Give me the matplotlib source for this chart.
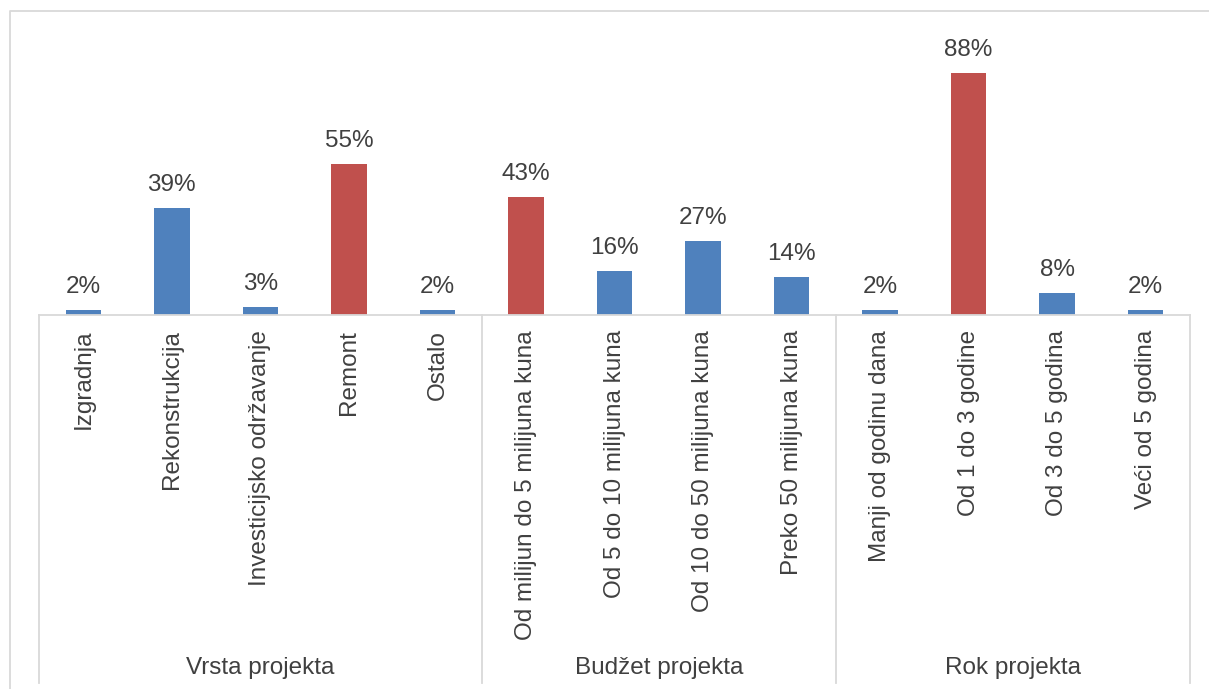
import matplotlib.pyplot as plt
from matplotlib.lines import Line2D
from matplotlib.transforms import blended_transform_factory

plt.rcParams['font.family'] = ['Liberation Sans', 'DejaVu Sans']

groups = ['Vrsta projekta', 'Budžet projekta', 'Rok projekta']
categories = [
    ['Izgradnja', 'Rekonstrukcija', 'Investicijsko održavanje', 'Remont', 'Ostalo'],
    ['Od milijun do 5 milijuna kuna', 'Od 5 do 10 milijuna kuna',
     'Od 10 do 50 milijuna kuna', 'Preko 50 milijuna kuna'],
    ['Manji od godinu dana', 'Od 1 do 3 godine', 'Od 3 do 5 godina', 'Veći od 5 godina'],
]
values = [
    [2, 39, 3, 55, 2],
    [43, 16, 27, 14],
    [2, 88, 8, 2],
]

blue = '#4F81BD'
red = '#C0504D'
text_col = '#404040'
grid_col = '#D9D9D9'
fs = 17.5

W, H = 1209, 689
fig = plt.figure(figsize=(W / 100, H / 100), dpi=100)

# plot area in pixels: x 39..1190, y 40..315
left, right, top, bottom = 39, 1190, 40, 315
ax = fig.add_axes([left / W, 1 - bottom / H, (right - left) / W, (bottom - top) / H])

labels, vals, cols = [], [], []
for cats, v in zip(categories, values):
    m = max(v)
    for c, x in zip(cats, v):
        labels.append(c)
        vals.append(x)
        cols.append(red if x == m else blue)

pos = list(range(len(vals)))
bars = ax.bar(pos, vals, width=0.4, color=cols, zorder=2)
for b, x in zip(bars, vals):
    ax.annotate(f'{x}%', (b.get_x() + b.get_width() / 2, b.get_height()),
                xytext=(0, 8.5), textcoords='offset points', ha='center', va='bottom',
                fontsize=fs, color=text_col)

ax.set_xlim(-0.5, len(vals) - 0.5)
ax.set_ylim(0, 100)
ax.set_xticks([])
ax.set_yticks([])
for s in ['top', 'right', 'left']:
    ax.spines[s].set_visible(False)
ax.spines['bottom'].set_color(grid_col)
ax.spines['bottom'].set_linewidth(1.3)

trans = blended_transform_factory(ax.transData, fig.transFigure)

# category labels, rotated
for p, lab in zip(pos, labels):
    ax.text(p, 1 - 330 / H, lab, transform=trans, rotation=90, ha='center', va='top',
            fontsize=fs, color=text_col)

# group separators and group labels
start = 0
edges = [-0.5]
for g, cats in zip(groups, categories):
    end = start + len(cats)
    edges.append(end - 0.5)
    ax.text((start + end - 1) / 2, 1 - 668 / H, g, transform=trans, ha='center',
            va='center', fontsize=fs, color=text_col)
    start = end
for e in edges:
    fig.add_artist(Line2D([e, e], [1 - bottom / H, 1 - 683 / H], transform=trans,
                          color=grid_col, lw=1.3))

# chart border
fig.add_artist(Line2D([10 / W, 10 / W, 1.0], [0.0, 1 - 11 / H, 1 - 11 / H],
                      transform=fig.transFigure, color=grid_col, lw=1.3))

fig.savefig('out.png', dpi=100)
